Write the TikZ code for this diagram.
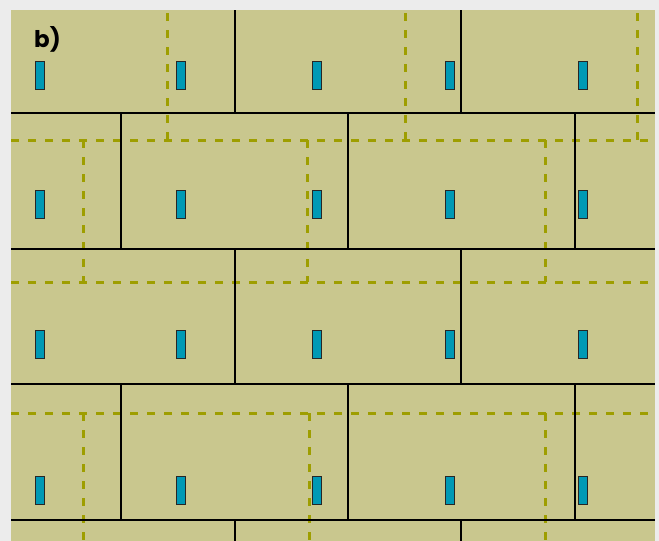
\documentclass[tikz,border=0pt]{standalone}
\usepackage{fontspec}
\setmainfont{Poppins}
\definecolor{bggray}{HTML}{ECECEC}
\definecolor{tanbg}{HTML}{C9C78E}
\definecolor{guidecol}{HTML}{9E9E00}
\definecolor{plugcol}{HTML}{0099B5}
\begin{document}
\begin{tikzpicture}[x=1pt,y=-1pt,
  joint/.style={draw=black,line width=1.1pt},
  guide/.style={draw=guidecol,line width=3pt,dash pattern=on 7.5pt off 9.5pt},
  plug/.style={draw=black!85,fill=plugcol,line width=1pt}]
\fill[bggray] (0,0) rectangle (659,541);
\useasboundingbox (0,0) rectangle (659,541);
\fill[tanbg] (11,10) rectangle (655,541);
% dashed guides
\foreach \yy in {140,282,413} {\draw[guide] (11,\yy) -- (655,\yy);}
\foreach \xx in {167,405,637} {\draw[guide] (\xx,13) -- (\xx,140);}
\foreach \xx in {83,307,545} {\draw[guide] (\xx,140) -- (\xx,282);}
\foreach \xx in {83,309,545} {\draw[guide] (\xx,413) -- (\xx,541);}
% brick joints
\foreach \yy in {113,249,384,520} {\draw[joint] (11,\yy) -- (655,\yy);}
\foreach \ya/\yb in {10/113,249/384,520/541}
  {\foreach \xx in {235,461} {\draw[joint] (\xx,\ya) -- (\xx,\yb);}}
\foreach \ya/\yb in {113/249,384/520}
  {\foreach \xx in {121,348,575} {\draw[joint] (\xx,\ya) -- (\xx,\yb);}}
% plugs
\foreach \yy in {61,190,330,476}
  {\foreach \xx in {35,176,312,445,578}
    {\draw[plug] (\xx,\yy) rectangle ++(9.5,28);}}
\node[anchor=base west,inner sep=0pt,font=\fontsize{23}{25}\selectfont\bfseries] (lbl) at (34,47) {b)};
\end{tikzpicture}
\end{document}
